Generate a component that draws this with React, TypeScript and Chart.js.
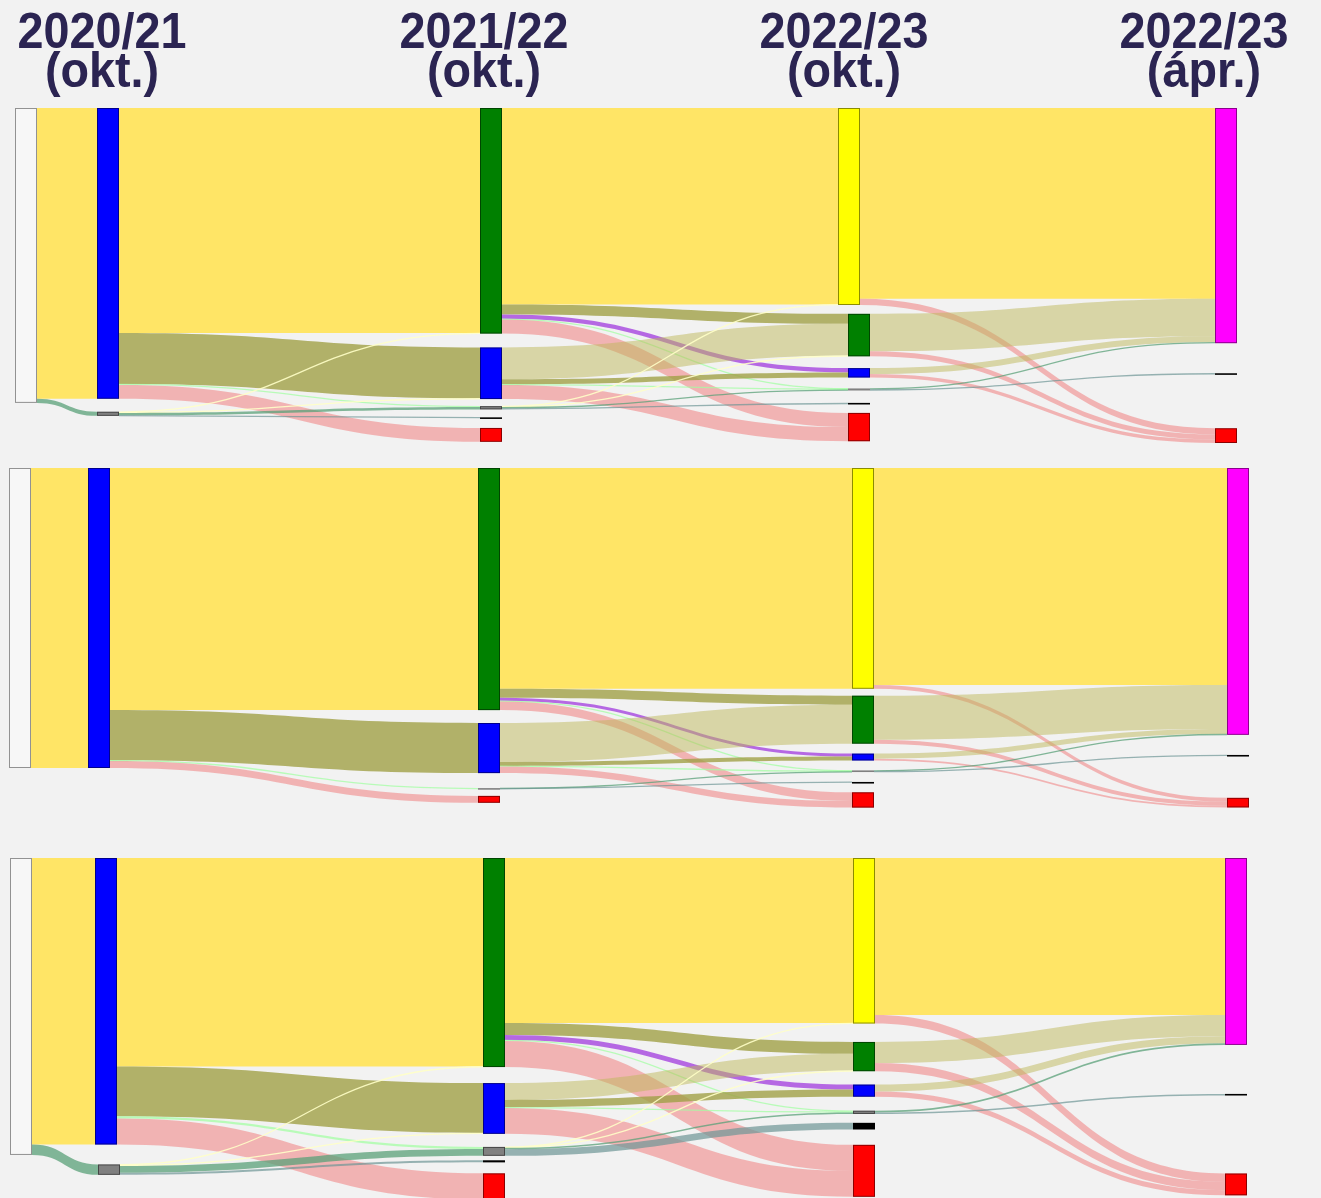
import React, { useEffect, useRef } from 'react';
import { Chart, registerables } from 'chart.js';

Chart.register(...registerables);

// ---------------- DATA ----------------
const STAGE_YEARS = ['2020/21', '2021/22', '2022/23', '2022/23'];
const STAGE_MONTHS = ['(okt.)', '(okt.)', '(okt.)', '(ápr.)'];

// node ids per column (source column + four survey stages)
const COLUMNS: string[][] = [
  ['W'],
  ['B20', 'G20'],
  ['Gr21', 'B21', 'Gy21', 'Bk21', 'R21'],
  ['Y22', 'G22', 'B22', 'Gy22', 'Bk22', 'R22'],
  ['M23', 'Bk23', 'R23'],
];

type Flow = [string, string, number, string]; // from, to, share of cohort (%), flow kind

const PANEL1_FLOWS: Flow[] = [
  ['W', 'B20', 98.6, 'yellow'],
  ['W', 'G20', 1.4, 'teal'],
  ['B20', 'Gr21', 76.3, 'yellow'],
  ['B20', 'B21', 17.3, 'olive'],
  ['B20', 'Gy21', 0.3, 'ltgreen'],
  ['B20', 'R21', 4.7, 'pink'],
  ['G20', 'Gr21', 0.2, 'cream'],
  ['G20', 'B21', 0.2, 'cream'],
  ['G20', 'Gy21', 0.8, 'teal'],
  ['G20', 'Bk21', 0.2, 'slate'],
  ['Gr21', 'Y22', 66.6, 'yellow'],
  ['Gr21', 'G22', 3.4, 'olive'],
  ['Gr21', 'B22', 1.5, 'purple'],
  ['Gr21', 'Gy22', 0.2, 'ltgreen'],
  ['Gr21', 'R22', 4.8, 'pink'],
  ['B21', 'G22', 10.8, 'khaki'],
  ['B21', 'B22', 1.7, 'olive'],
  ['B21', 'Gy22', 0.2, 'ltgreen'],
  ['B21', 'R22', 4.8, 'pink'],
  ['Gy21', 'Y22', 0.2, 'cream'],
  ['Gy21', 'G22', 0.2, 'cream'],
  ['Gy21', 'Gy22', 0.3, 'teal'],
  ['Gy21', 'Bk22', 0.4, 'slate'],
  ['Y22', 'M23', 64.7, 'yellow'],
  ['Y22', 'R23', 2.1, 'pink'],
  ['G22', 'M23', 12.7, 'khaki'],
  ['G22', 'R23', 1.7, 'pink'],
  ['B22', 'M23', 2.0, 'khaki'],
  ['B22', 'R23', 1.2, 'pink'],
  ['Gy22', 'M23', 0.35, 'teal'],
  ['Gy22', 'Bk23', 0.35, 'slate'],
];

const PANEL2_FLOWS: Flow[] = [
  ['W', 'B20', 100, 'yellow'],
  ['B20', 'Gr21', 80.7, 'yellow'],
  ['B20', 'B21', 16.7, 'olive'],
  ['B20', 'Gy21', 0.3, 'ltgreen'],
  ['B20', 'R21', 2.3, 'pink'],
  ['Gr21', 'Y22', 73.6, 'yellow'],
  ['Gr21', 'G22', 3.0, 'olive'],
  ['Gr21', 'B22', 1.0, 'purple'],
  ['Gr21', 'Gy22', 0.2, 'ltgreen'],
  ['Gr21', 'R22', 2.9, 'pink'],
  ['B21', 'G22', 13.0, 'khaki'],
  ['B21', 'B22', 1.3, 'olive'],
  ['B21', 'Gy22', 0.2, 'ltgreen'],
  ['B21', 'R22', 2.2, 'pink'],
  ['Gy21', 'Gy22', 0.15, 'teal'],
  ['Gy21', 'Bk22', 0.15, 'slate'],
  ['Y22', 'M23', 72.3, 'yellow'],
  ['Y22', 'R23', 1.3, 'pink'],
  ['G22', 'M23', 14.7, 'khaki'],
  ['G22', 'R23', 1.3, 'pink'],
  ['B22', 'M23', 1.7, 'khaki'],
  ['B22', 'R23', 0.6, 'pink'],
  ['Gy22', 'M23', 0.25, 'teal'],
  ['Gy22', 'Bk23', 0.3, 'slate'],
];

const PANEL3_FLOWS: Flow[] = [
  ['W', 'B20', 96.5, 'yellow'],
  ['W', 'G20', 3.5, 'teal'],
  ['B20', 'Gr21', 70.2, 'yellow'],
  ['B20', 'B21', 16.8, 'olive'],
  ['B20', 'Gy21', 0.7, 'ltgreen'],
  ['B20', 'R21', 8.8, 'pink'],
  ['G20', 'Gr21', 0.2, 'cream'],
  ['G20', 'B21', 0.3, 'cream'],
  ['G20', 'Gy21', 2.3, 'teal'],
  ['G20', 'Bk21', 0.7, 'slate'],
  ['Gr21', 'Y22', 55.6, 'yellow'],
  ['Gr21', 'G22', 4.0, 'olive'],
  ['Gr21', 'B22', 1.7, 'purple'],
  ['Gr21', 'Gy22', 0.3, 'ltgreen'],
  ['Gr21', 'R22', 8.8, 'pink'],
  ['B21', 'G22', 5.7, 'khaki'],
  ['B21', 'B22', 2.4, 'olive'],
  ['B21', 'Gy22', 0.3, 'ltgreen'],
  ['B21', 'R22', 8.7, 'pink'],
  ['Gy21', 'Y22', 0.15, 'cream'],
  ['Gy21', 'G22', 0.15, 'cream'],
  ['Gy21', 'Gy22', 0.5, 'teal'],
  ['Gy21', 'Bk22', 2.2, 'slate'],
  ['Y22', 'M23', 52.9, 'yellow'],
  ['Y22', 'R23', 2.85, 'pink'],
  ['G22', 'M23', 7.1, 'khaki'],
  ['G22', 'R23', 2.75, 'pink'],
  ['B22', 'M23', 2.35, 'khaki'],
  ['B22', 'R23', 1.75, 'pink'],
  ['Gy22', 'M23', 0.6, 'teal'],
  ['Gy22', 'Bk23', 0.5, 'slate'],
];

// ---------------- STYLE ----------------
const PAGE_W = 1321;
const BG = '#f2f2f2';
const TITLE_COLOR = '#2b2452';
const NODE_W = 22;

const NODE_COLOR: Record<string, string> = {
  W: '#f7f7f7', B20: '#0000ff', G20: '#808080',
  Gr21: '#008000', B21: '#0000ff', Gy21: '#808080', Bk21: '#000000', R21: '#ff0000',
  Y22: '#ffff00', G22: '#008000', B22: '#0000ff', Gy22: '#808080', Bk22: '#000000', R22: '#ff0000',
  M23: '#ff00ff', Bk23: '#000000', R23: '#ff0000',
};

const FLOW_COLOR: Record<string, string> = {
  yellow: 'rgba(255,229,102,1)',
  olive: 'rgba(160,160,70,0.8)',
  khaki: 'rgba(190,184,90,0.5)',
  pink: 'rgba(240,128,128,0.55)',
  purple: 'rgba(170,80,225,0.85)',
  ltgreen: 'rgba(160,255,160,0.7)',
  teal: 'rgba(90,160,120,0.75)',
  slate: 'rgba(110,150,150,0.7)',
  cream: 'rgba(255,255,200,0.9)',
};

// ---------------- LAYOUT ----------------
const HEADER_X = [102, 484, 844, 1204];

interface PanelLayout {
  height: number;
  padTop: number;
  padBottom: number;
  yMax: number;
  colX: number[];
  nodeX: Record<string, number>;
  gaps: Record<string, number>;
}

const LAYOUT1: PanelLayout = {
  height: 455, padTop: 108, padBottom: 12, yMax: 113.6,
  colX: [15, 97, 480, 848, 1215],
  nodeX: { Y22: 838 },
  gaps: { G20: 4.4, B21: 4.7, Gy21: 2.4, Bk21: 2.7, R21: 3.4, G22: 3.0, B22: 4.0, Gy22: 3.7, Bk22: 4.2, R22: 3.0, Bk23: 10.2, R23: 18.3 },
};
const LAYOUT2: PanelLayout = {
  height: 380, padTop: 13, padBottom: 27.4, yMax: 113.2,
  colX: [9, 88, 478, 852, 1227],
  nodeX: {},
  gaps: { B21: 4.3, Gy21: 5.0, R21: 2.3, G22: 2.3, B22: 3.3, Gy22: 3.3, Bk22: 3.3, R22: 3.3, Bk23: 6.7, R23: 14.0 },
};
const LAYOUT3: PanelLayout = {
  height: 363, padTop: 23, padBottom: 0, yMax: 114.5,
  colX: [10, 95, 483, 853, 1225],
  nodeX: { G20: 98 },
  gaps: { G20: 6.7, B21: 5.4, Gy21: 4.4, Bk21: 1.5, R21: 3.7, G22: 6.2, B22: 4.5, Gy22: 4.7, Bk22: 3.0, R22: 5.2, Bk23: 16.5, R23: 26.3 },
};

interface NodeBox { id: string; ci: number; y0: number; y1: number; }
interface LinkBox { s: NodeBox; t: NodeBox; v: number; k: string; sy: number; ty: number; }

function makeSankeyPlugin(flows: Flow[], layout: PanelLayout, showHeaders: boolean) {
  return {
    id: 'sankeyDraw',
    afterDraw(chart: any) {
      const ctx: CanvasRenderingContext2D = chart.ctx;
      const xs = chart.scales.x;
      const ys = chart.scales.y;

      const inSum: Record<string, number> = {};
      const outSum: Record<string, number> = {};
      flows.forEach(([s, t, v]) => {
        outSum[s] = (outSum[s] || 0) + v;
        inSum[t] = (inSum[t] || 0) + v;
      });
      const nodes: Record<string, NodeBox> = {};
      COLUMNS.forEach((col, ci) => {
        let y = 0;
        col.forEach((id) => {
          const v = Math.max(inSum[id] || 0, outSum[id] || 0);
          if (!v) return;
          y += layout.gaps[id] || 0;
          nodes[id] = { id, ci, y0: y, y1: y + v };
          y += v;
        });
      });
      const nodeLeft = (n: NodeBox) => (layout.nodeX[n.id] !== undefined ? layout.nodeX[n.id] : layout.colX[n.ci]);

      const links: LinkBox[] = flows.map(([s, t, v, k]) => ({ s: nodes[s], t: nodes[t], v, k, sy: 0, ty: 0 }));
      Object.values(nodes).forEach((n) => {
        const outs = links.filter((l) => l.s === n).sort((a, b) => a.t.y0 - b.t.y0);
        let y = n.y0;
        outs.forEach((l) => { l.sy = y; y += l.v; });
        const ins = links.filter((l) => l.t === n).sort((a, b) => a.s.y0 - b.s.y0);
        y = n.y0;
        ins.forEach((l) => { l.ty = y; y += l.v; });
      });

      ctx.save();
      links.forEach((l) => {
        const x0 = xs.getPixelForValue(nodeLeft(l.s) + NODE_W);
        const x1 = xs.getPixelForValue(nodeLeft(l.t));
        const xm = (x0 + x1) / 2;
        let a0 = ys.getPixelForValue(l.sy);
        let a1 = ys.getPixelForValue(l.sy + l.v);
        let b0 = ys.getPixelForValue(l.ty);
        let b1 = ys.getPixelForValue(l.ty + l.v);
        const color = FLOW_COLOR[l.k];
        if (a1 - a0 < 1.3) {
          const am = (a0 + a1) / 2;
          const bm = (b0 + b1) / 2;
          ctx.beginPath();
          ctx.moveTo(x0, am);
          ctx.bezierCurveTo(xm, am, xm, bm, x1, bm);
          ctx.strokeStyle = color;
          ctx.lineWidth = 1.3;
          ctx.stroke();
          return;
        }
        ctx.beginPath();
        ctx.moveTo(x0, a0);
        ctx.bezierCurveTo(xm, a0, xm, b0, x1, b0);
        ctx.lineTo(x1, b1);
        ctx.bezierCurveTo(xm, b1, xm, a1, x0, a1);
        ctx.closePath();
        ctx.fillStyle = color;
        ctx.fill();
      });

      Object.values(nodes).forEach((n) => {
        const x = xs.getPixelForValue(nodeLeft(n));
        const x2 = xs.getPixelForValue(nodeLeft(n) + NODE_W);
        const y0 = ys.getPixelForValue(n.y0);
        let y1 = ys.getPixelForValue(n.y1);
        if (y1 - y0 < 1.6) y1 = y0 + 1.6;
        ctx.fillStyle = NODE_COLOR[n.id];
        ctx.fillRect(x, y0, x2 - x, y1 - y0);
        ctx.strokeStyle = n.id === 'W' ? 'rgba(120,120,120,0.8)' : 'rgba(0,0,0,0.45)';
        ctx.lineWidth = 1;
        if (y1 - y0 > 3) ctx.strokeRect(x + 0.5, y0 + 0.5, x2 - x - 1, y1 - y0 - 1);
      });

      if (showHeaders) {
        ctx.fillStyle = TITLE_COLOR;
        ctx.textAlign = 'center';
        ctx.textBaseline = 'alphabetic';
        ctx.font = 'bold 50px "Liberation Sans", Arial, sans-serif';
        HEADER_X.forEach((hx, i) => {
          const cx = xs.getPixelForValue(hx);
          [STAGE_YEARS[i], STAGE_MONTHS[i]].forEach((txt, j) => {
            ctx.save();
            ctx.translate(cx, j === 0 ? 48 : 87);
            ctx.scale(0.935, 1);
            ctx.fillText(txt, 0, 0);
            ctx.restore();
          });
        });
      }
      ctx.restore();
    },
  };
}

function SankeyPanel({ flows, layout, showHeaders }: { flows: Flow[]; layout: PanelLayout; showHeaders: boolean }) {
  const ref = useRef<HTMLCanvasElement>(null);
  useEffect(() => {
    if (!ref.current) return;
    const chart = new Chart(ref.current, {
      type: 'scatter',
      data: { datasets: [] },
      options: {
        responsive: false,
        animation: false,
        events: [],
        layout: { padding: { top: layout.padTop, bottom: layout.padBottom, left: 0, right: 0 } },
        scales: {
          x: { type: 'linear', min: 0, max: PAGE_W, display: false },
          y: { type: 'linear', min: 0, max: layout.yMax, reverse: true, display: false },
        },
        plugins: { legend: { display: false }, tooltip: { enabled: false } },
      },
      plugins: [makeSankeyPlugin(flows, layout, showHeaders)],
    } as any);
    return () => chart.destroy();
  }, [flows, layout, showHeaders]);
  return <canvas ref={ref} width={PAGE_W} height={layout.height} style={{ display: 'block', width: PAGE_W, height: layout.height }} />;
}

export default function App() {
  useEffect(() => {
    document.body.style.margin = '0';
    document.body.style.background = BG;
  }, []);
  return (
    <div style={{ width: PAGE_W, height: 1198, background: BG, overflow: 'hidden' }}>
      <SankeyPanel flows={PANEL1_FLOWS} layout={LAYOUT1} showHeaders={true} />
      <SankeyPanel flows={PANEL2_FLOWS} layout={LAYOUT2} showHeaders={false} />
      <SankeyPanel flows={PANEL3_FLOWS} layout={LAYOUT3} showHeaders={false} />
    </div>
  );
}
